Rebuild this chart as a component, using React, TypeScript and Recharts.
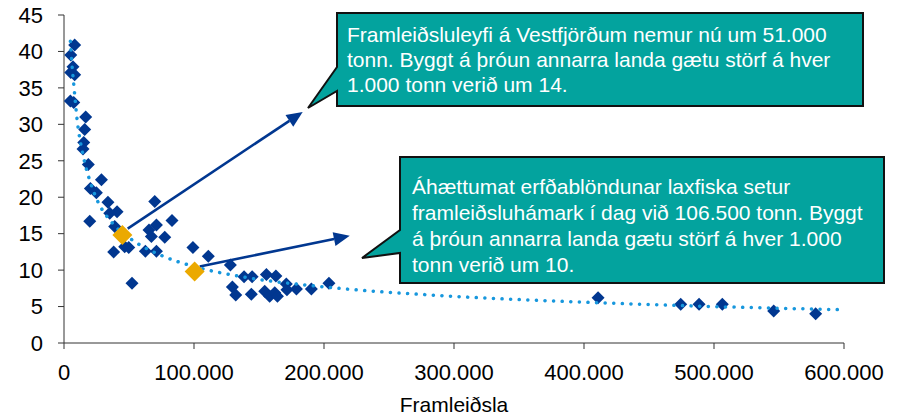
import React from 'react';
import { ComposedChart, Scatter, XAxis, YAxis, ReferenceLine } from 'recharts';

const FONT = '"Liberation Sans", Arial, Helvetica, sans-serif';
const NAVY = '#013790';
const ORANGE = '#eba900';
const TREND = '#1797dd';
const TEAL = '#03a39e';

// framleiðsla (tonn) og störf á hver 1.000 tonn, lesið af myndinni
const productionTonnes = [
  8200, 5200, 6900, 5200, 8200, 4900, 7500, 16700, 15900, 15200,
  14600, 18700, 28800, 20300, 24900, 19800, 33800, 40800, 35200, 39000,
  69800, 83100, 71100, 65400, 67200, 77500, 38200, 46700, 49800, 62600,
  71100, 99200, 111000, 52300, 128000, 129500, 132100, 138500, 144700, 144100,
  155700, 163000, 154400, 158200, 162100, 164200, 171000, 171500, 178800, 190300,
  203800, 410800, 474400, 488500, 506400, 545900, 578200,
];
const jobsPer1000 = [
  40.9, 39.5, 37.9, 37.1, 36.8, 33.2, 33.0, 31.0, 29.3, 27.5,
  26.6, 24.5, 22.4, 21.2, 20.6, 16.7, 19.3, 18.0, 17.8, 16.0,
  19.4, 16.8, 16.2, 15.5, 14.6, 14.5, 12.5, 13.2, 13.1, 12.6,
  12.6, 13.1, 11.9, 8.2, 10.7, 7.7, 6.6, 9.1, 9.1, 6.7,
  9.4, 9.2, 7.1, 6.4, 6.9, 6.4, 8.1, 7.3, 7.4, 7.4,
  8.2, 6.2, 5.3, 5.3, 5.3, 4.4, 4.0,
];

// Vestfirðir í dag og framleiðsluhámark
const highlightTonnes = [44900, 100500];
const highlightJobs = [14.8, 9.8];

// veldisleitnilína (punktalína)
const trendTonnes = [4900, 6000, 7500, 10000, 15000, 20000, 25000, 37000, 52000, 75000, 100000, 140000, 200000, 300000, 400000, 500000, 600000];
const trendJobs = [41.4, 38.5, 35.5, 30.8, 25.5, 22.2, 19.8, 16.5, 14.2, 12.0, 10.5, 9.0, 7.7, 6.4, 5.6, 5.0, 4.56];

const xTicks = [0, 100000, 200000, 300000, 400000, 500000, 600000];
const yTicks = [0, 5, 10, 15, 20, 25, 30, 35, 40, 45];

// örvar frá punktum að textaboxum
const arrows = [
  { from: { x: 49000, y: 15.7 }, to: { x: 183600, y: 31.7 } },
  { from: { x: 104400, y: 10.5 }, to: { x: 219800, y: 14.7 } },
];

const callout1 = [
  'Framleiðsluleyfi á Vestfjörðum nemur nú um 51.000',
  'tonn. Byggt á þróun annarra landa gætu störf á hver',
  '1.000 tonn verið um 14.',
];
const callout2 = [
  'Áhættumat erfðablöndunar laxfiska setur',
  'framleiðsluhámark í dag við 106.500 tonn. Byggt',
  'á þróun annarra landa gætu störf á hver 1.000',
  'tonn verið um 10.',
];

const farms = productionTonnes.map((x, i) => ({ x, y: jobsPer1000[i] }));
const highlights = highlightTonnes.map((x, i) => ({ x, y: highlightJobs[i] }));
const trend = trendTonnes.map((x, i) => ({ x, y: trendJobs[i] }));

const fmtThousands = (v: number) => String(v).replace(/\B(?=(\d{3})+(?!\d))/g, '.');

const diamond = (r: number, fill: string) => (props: any) => {
  const { cx, cy } = props;
  if (cx == null || cy == null) return <g />;
  return <polygon points={`${cx},${cy - r} ${cx + r},${cy} ${cx},${cy + r} ${cx - r},${cy}`} fill={fill} />;
};

const noMarker = () => <g />;

const ArrowShape = (props: any) => {
  const { x1, y1, x2, y2 } = props;
  if ([x1, y1, x2, y2].some((v) => v == null || isNaN(v))) return <g />;
  const ang = Math.atan2(y2 - y1, x2 - x1);
  const len = 16;
  const half = 7;
  const bx = x2 - len * Math.cos(ang);
  const by = y2 - len * Math.sin(ang);
  const px = -Math.sin(ang) * half;
  const py = Math.cos(ang) * half;
  return (
    <g>
      <line x1={x1} y1={y1} x2={bx} y2={by} stroke={NAVY} strokeWidth={2.6} />
      <polygon points={`${x2},${y2} ${bx + px},${by + py} ${bx - px},${by - py}`} fill={NAVY} />
    </g>
  );
};

function Callouts() {
  const textStyle = { fontFamily: FONT, fontSize: 21, fill: '#fff' };
  return (
    <svg width={907} height={417} style={{ position: 'absolute', left: 0, top: 0, pointerEvents: 'none' }}>
      <path d="M337,13 H863 V106 H337 V91 L308,108 L337,67 Z" fill={TEAL} stroke="#111" strokeWidth={2} />
      {callout1.map((t, i) => (
        <text key={i} x={347} y={42 + i * 25} style={textStyle}>{t}</text>
      ))}
      <path d="M400,157 H884 V283 H400 V253 L362,258 L400,230 Z" fill={TEAL} stroke="#111" strokeWidth={2} />
      {callout2.map((t, i) => (
        <text key={i} x={412} y={194 + i * 26} style={textStyle}>{t}</text>
      ))}
    </svg>
  );
}

export default function App() {
  const tickStyle = { fontSize: 22, fill: '#000', fontFamily: FONT };
  return (
    <div style={{ position: 'absolute', left: 0, top: 0, width: 907, height: 417, background: '#fff' }}>
      <ComposedChart width={907} height={417} margin={{ top: 15, right: 63, bottom: 0, left: 0 }}>
        <XAxis
          type="number"
          dataKey="x"
          domain={[0, 600000]}
          ticks={xTicks}
          tickFormatter={fmtThousands}
          tick={tickStyle}
          tickSize={6}
          tickMargin={15}
          height={74}
          stroke="#333"
          label={{ value: 'Framleiðsla', position: 'insideBottom', offset: 5, fontSize: 21, fill: '#000', fontFamily: FONT }}
        />
        <YAxis
          type="number"
          dataKey="y"
          domain={[0, 45]}
          ticks={yTicks}
          tick={tickStyle}
          tickSize={6}
          tickMargin={15}
          width={64}
          stroke="#333"
        />
        <Scatter data={farms} fill={NAVY} shape={diamond(6.5, NAVY)} isAnimationActive={false} />
        <Scatter
          data={trend}
          fill={TREND}
          shape={noMarker}
          line={{ stroke: TREND, strokeWidth: 3.5, strokeDasharray: '0.1 8.5', strokeLinecap: 'round' }}
          lineType="joint"
          lineJointType="monotoneX"
          isAnimationActive={false}
        />
        <Scatter data={highlights} fill={ORANGE} shape={diamond(10, ORANGE)} isAnimationActive={false} />
        {arrows.map((a, i) => (
          <ReferenceLine key={i} segment={[a.from, a.to]} ifOverflow="visible" shape={ArrowShape} />
        ))}
      </ComposedChart>
      <Callouts />
    </div>
  );
}
